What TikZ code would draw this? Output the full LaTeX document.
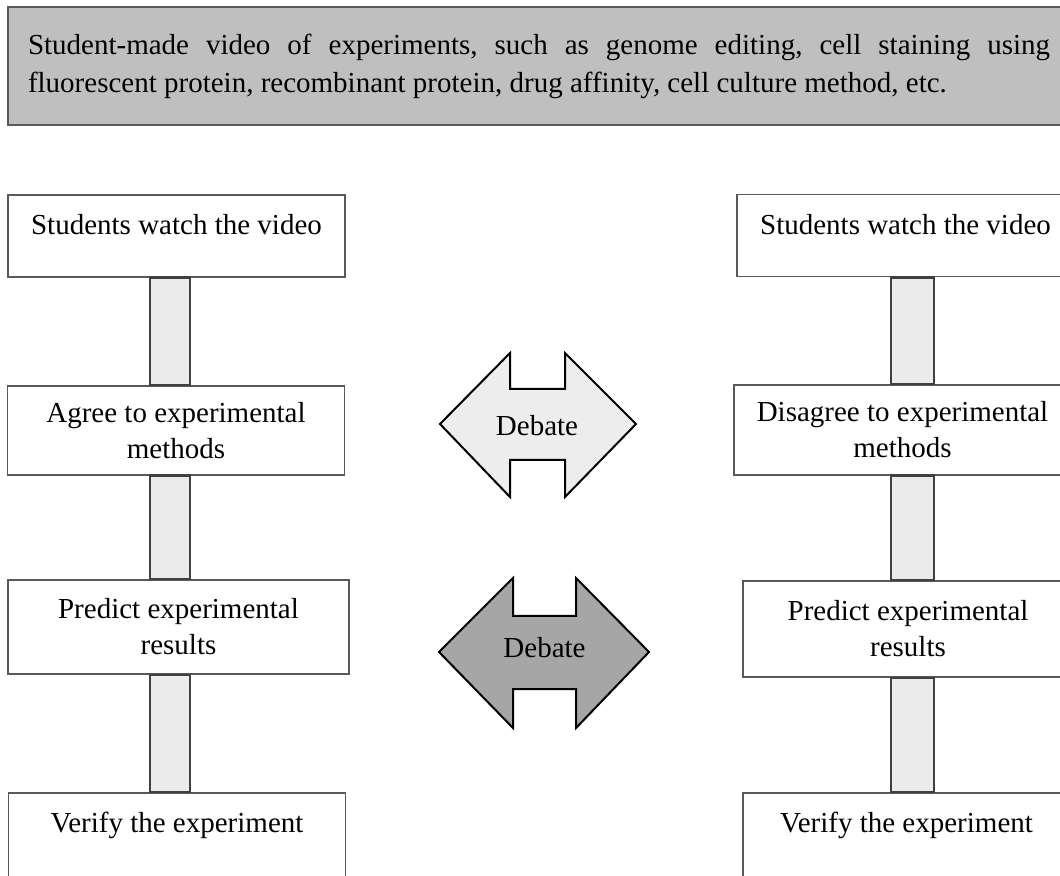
\documentclass[tikz,border=0pt]{standalone}
\usepackage{fontspec}
\setmainfont{Liberation Serif}
\usetikzlibrary{calc}

\definecolor{topgray}{HTML}{BFBFBF}
\definecolor{framegray}{HTML}{595959}
\definecolor{barfill}{HTML}{EBEBEB}
\definecolor{bardraw}{HTML}{404040}
\definecolor{debatelight}{HTML}{EDEDED}
\definecolor{debatedark}{HTML}{A6A6A6}

\frenchspacing

\tikzset{
	box/.style = {draw = framegray, line width = .75pt, inner sep = 0pt, align = center,
		minimum width = 168.5pt, font = \fontsize{14.5pt}{18pt}\selectfont},
	onebox/.style = {box, text height = 20pt, text depth = #1},
	onebox/.default = 21pt,
	bar/.style = {fill = barfill, draw = bardraw, line width = 1.25pt},
	debate/.style = {draw = black, line width = 1pt},
	debtext/.style = {inner sep = 0pt, font = \fontsize{14.5pt}{18pt}\selectfont}
}

\begin{document}
\begin{tikzpicture}[x = .5pt, y = -.5pt]
	\useasboundingbox (0, 0) rectangle (1060, 876);
	\clip (0, 0) rectangle (1060, 876);
	
	% 顶部说明
	\node [draw = framegray, fill = topgray, line width = .75pt, inner xsep = 10pt, inner ysep = 0pt,
		minimum height = 59pt, text width = 511pt, align = justify,
		font = \fontsize{14.5pt}{19pt}\selectfont] (video) at (539, 66)
		{\hyphenpenalty=10000 Student-made video of experiments, such as genome editing, cell staining using\linebreak
		fluorescent protein, recombinant protein, drug affinity, cell culture method, etc.\par\vspace{8pt}};
	
	% 左列
	% boxes
	\node [onebox] (l1) at (176.5, 236) {Students watch the video};
	\node [box, minimum height = 44.5pt] (l2) at (176, 430.5) {Agree to experimental\\methods};
	\node [box, minimum width = 170.5pt, minimum height = 47pt] (l3) at (178.5, 627) {Predict experimental\\results};
	\node [onebox = 25pt, anchor = north] (l4) at (177, 792) {Verify the experiment};
	% bars
	\coordinate (lbl) at (150, 0);
	\coordinate (lbr) at (190, 0);
	\draw [bar] (l1.south -| lbl) rectangle (l2.north -| lbr);
	\draw [bar] (l2.south -| lbl) rectangle (l3.north -| lbr);
	\draw [bar] (l3.south -| lbl) rectangle (l4.north -| lbr);
	
	% 右列
	% boxes
	\node [onebox, anchor = north] (r1) at (905.5, 194) {Students watch the video};
	\node [box, minimum height = 45pt] (r2) at (902.5, 430) {Disagree to experimental\\methods};
	\node [box, minimum width = 165pt, minimum height = 48pt] (r3) at (908, 629) {Predict experimental\\results};
	\node [onebox = 25pt, minimum width = 163.5pt, anchor = north] (r4) at (906.5, 792) {Verify the experiment};
	% bars
	\coordinate (rbl) at (891, 0);
	\coordinate (rbr) at (934, 0);
	\draw [bar] (r1.south -| rbl) rectangle (r2.north -| rbr);
	\draw [bar] (r2.south -| rbl) rectangle (r3.north -| rbr);
	\draw [bar] (r3.south -| rbl) rectangle (r4.north -| rbr);
	
	% 辩论箭头
	\draw [debate, fill = debatelight] (440, 424) -- (510, 353) -- (510, 389) -- (565, 389) -- (565, 353)
		-- (636, 424) -- (565, 497) -- (565, 460) -- (510, 460) -- (510, 497) -- cycle;
	\node [debtext] (deb1) at (537, 426) {Debate};
	
	\draw [debate, fill = debatedark] (439, 652) -- (513, 578) -- (513, 616) -- (576, 616) -- (576, 578)
		-- (649, 652) -- (576, 728) -- (576, 689) -- (513, 689) -- (513, 728) -- cycle;
	\node [debtext] (deb2) at (544.5, 648) {Debate};
\end{tikzpicture}
\end{document}
